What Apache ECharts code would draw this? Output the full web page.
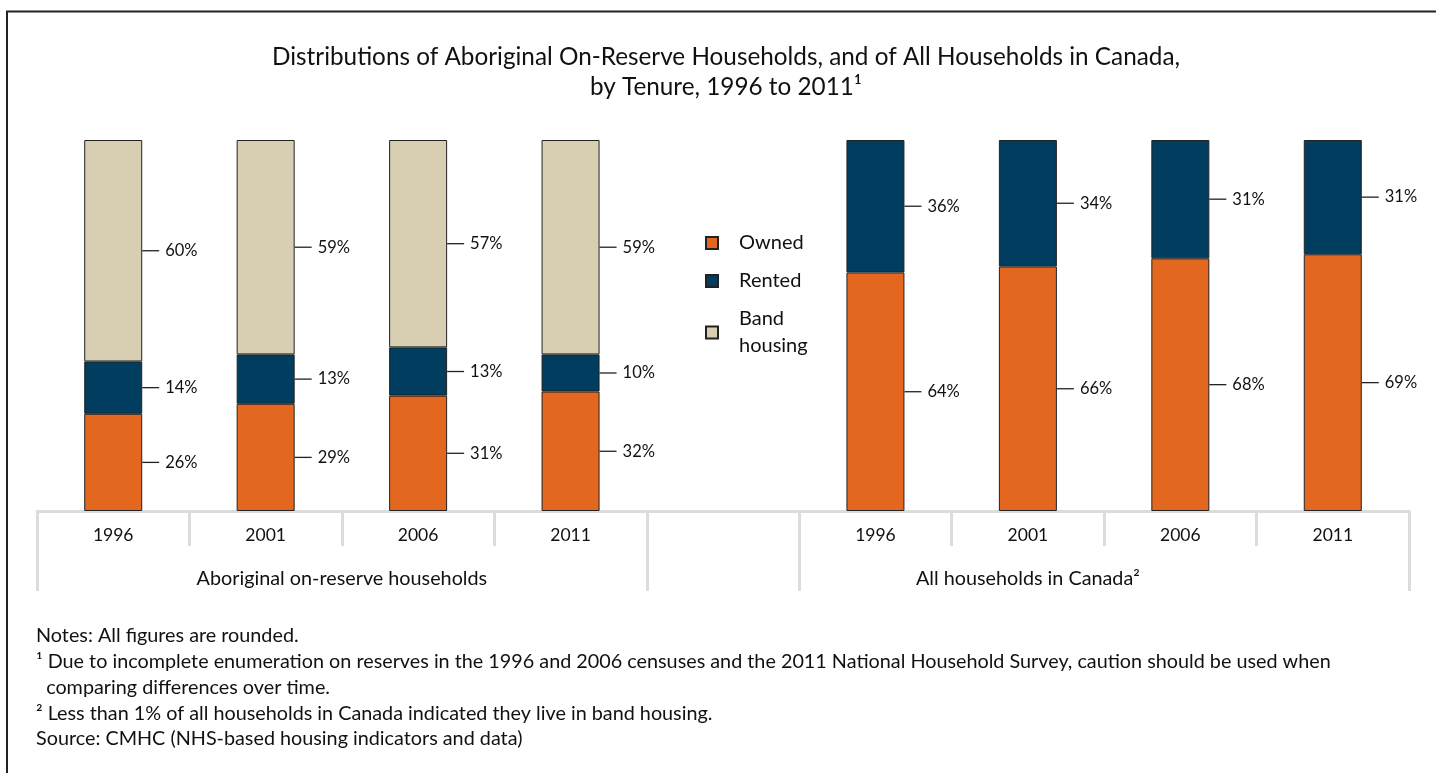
<!DOCTYPE html>
<html>
<head>
<meta charset="utf-8">
<script src="https://cdn.jsdelivr.net/npm/echarts@6/dist/echarts.min.js"></script>
<style>
html, body { margin: 0; padding: 0; background: #fff; }
#main { width: 1436px; height: 773px; }
</style>
</head>
<body>
<div id="main"></div>
<script>
// categories (the empty slot separates the two groups)
var years = ["1996", "2001", "2006", "2011", "", "1996", "2001", "2006", "2011"];
var groupNames = ["Aboriginal on-reserve households", "All households in Canada²"];
var groupCenters = [2, 6.5];
var groupBounds = [0, 4, 5, 9];

// segment sizes in percent
var owned = [26.2, 28.9, 31.1, 32.2, null, 64.3, 65.9, 68.1, 69.2];
var rented = [14.1, 13.3, 13.0, 10.0, null, 35.7, 34.1, 31.9, 30.8];
var band = [59.7, 57.8, 55.9, 57.8, null, null, null, null, null];

// printed (rounded) labels
var ownedLabels = [26, 29, 31, 32, null, 64, 66, 68, 69];
var rentedLabels = [14, 13, 13, 10, null, 36, 34, 31, 31];
var bandLabels = [60, 59, 57, 59, null, null, null, null, null];

var titleText = "Distributions of Aboriginal On-Reserve Households, and of All Households in Canada,\nby Tenure, 1996 to 2011¹";
var notes = [
  "Notes: All figures are rounded.",
  "¹ Due to incomplete enumeration on reserves in the 1996 and 2006 censuses and the 2011 National Household Survey, caution should be used when",
  "  comparing differences over time.",
  "² Less than 1% of all households in Canada indicated they live in band housing.",
  "Source: CMHC (NHS-based housing indicators and data)"
];

var FONT = "Lato";
var myChart = echarts.init(document.getElementById("main"));

function barLabel(labels) {
  return {
    show: true,
    position: "right",
    distance: 0,
    formatter: function (p) {
      var t = labels[p.dataIndex];
      if (t == null) return "";
      return "{l|}{v|" + t + "%}";
    },
    rich: {
      l: { width: 17, height: 1.3, backgroundColor: "#222" },
      v: { padding: [0, 0, 0, 6], fontSize: 16.5, color: "#111", fontFamily: FONT }
    }
  };
}

function makeSeries(name, data, labels, color) {
  return {
    name: name,
    type: "bar",
    stack: "total",
    barWidth: 58,
    clip: true,
    xAxisIndex: 0,
    itemStyle: { color: color, borderColor: "#222", borderWidth: 1 },
    label: barLabel(labels),
    data: data
  };
}

var option = {
  backgroundColor: "#fff",
  textStyle: { fontFamily: FONT },
  animation: false,
  title: {
    text: notes.join("\n"),
    left: 36,
    top: 623,
    padding: 0,
    textStyle: { fontSize: 19.8, fontWeight: "normal", color: "#111", lineHeight: 25.75, fontFamily: FONT }
  },
  legend: {
    orient: "vertical",
    left: 705,
    top: 233,
    padding: 0,
    icon: "rect",
    itemWidth: 12,
    itemHeight: 12,
    itemGap: 18,
    selectedMode: false,
    formatter: function (name) { return name.replace(" ", "\n"); },
    textStyle: { fontSize: 20, lineHeight: 20, color: "#111", padding: [0, 0, 0, 16], fontFamily: FONT },
    data: [
      "Owned",
      "Rented",
      { name: "Band housing", textStyle: { lineHeight: 27, padding: [-3.5, 0, -30.5, 16] } }
    ]
  },
  grid: { left: 37, right: 27, top: 140, bottom: 262 },
  xAxis: [
    {
      type: "category",
      data: years,
      axisLine: { show: true, lineStyle: { color: "#dcdcdc", width: 3 } },
      axisTick: { show: true, interval: 0, length: 35, lineStyle: { color: "#dcdcdc", width: 3 } },
      axisLabel: { interval: 0, margin: 15, fontSize: 17.5, color: "#111", fontFamily: FONT }
    },
    {
      type: "value",
      min: 0,
      max: 9,
      position: "bottom",
      axisLine: { show: false },
      splitLine: { show: false },
      axisTick: { show: true, customValues: groupBounds, length: 80, lineStyle: { color: "#dcdcdc", width: 3 } },
      axisLabel: {
        customValues: groupCenters,
        margin: 58,
        fontSize: 19.8,
        color: "#111",
        fontFamily: FONT,
        formatter: function (v) { return groupNames[groupCenters.indexOf(v)] || ""; }
      }
    }
  ],
  yAxis: { type: "value", min: 0, max: 100, show: false },
  graphic: [
    {
      type: "polyline",
      shape: { points: [[7, 773], [7, 11.5], [1436, 11.5]] },
      style: { stroke: "#222", lineWidth: 2, fill: null }
    },
    {
      type: "text",
      x: 726,
      y: 42,
      style: {
        text: titleText,
        align: "center",
        textAlign: "center",
        verticalAlign: "top",
        textVerticalAlign: "top",
        fontSize: 24.3,
        lineHeight: 30,
        fontFamily: FONT,
        fill: "#111"
      }
    }
  ],
  series: [
    makeSeries("Owned", owned, ownedLabels, "#e4671f"),
    makeSeries("Rented", rented, rentedLabels, "#003d5e"),
    makeSeries("Band housing", band, bandLabels, "#d8cfb2")
  ]
};

myChart.setOption(option);
</script>
</body>
</html>
